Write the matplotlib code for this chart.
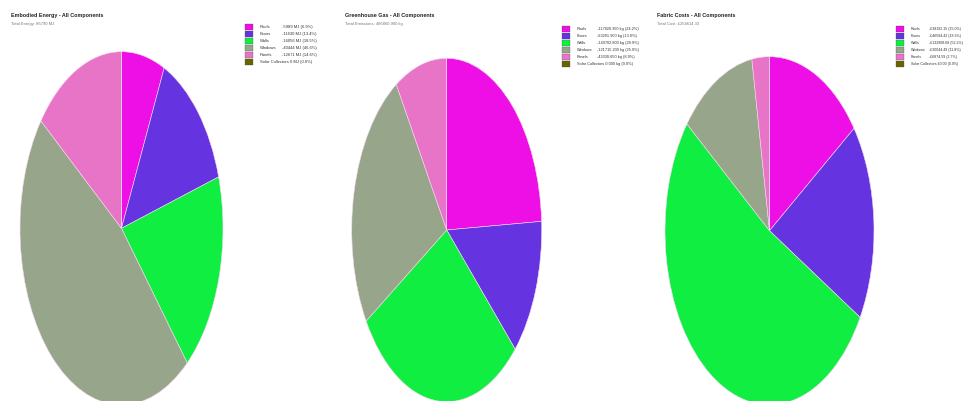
import matplotlib
matplotlib.use("Agg")
import matplotlib.pyplot as plt
from matplotlib.patches import Rectangle

plt.rcParams['font.family'] = ['Liberation Sans', 'DejaVu Sans']

components = ["Roofs", "Floors", "Walls", "Windows", "Panels", "Solar Collectors"]
colors = ["#ee0ee6", "#6633e0", "#10ee42", "#97a68a", "#e874c8", "#666600"]

energy = [5989, 11630, 16056, 40444, 12671, 0]
energy_pct = [6.9, 13.4, 18.5, 46.6, 14.6, 0.0]

ghg = [117820.350, 63291.900, 140702.800, 121715.200, 43330.650, 0.0]
ghg_pct = [24.2, 13.0, 28.9, 25.0, 8.9, 0.0]

cost = [38192.15, 46594.42, 132908.68, 30044.49, 6874.59, 0.0]
cost_pct = [15.0, 18.3, 52.2, 11.8, 2.7, 0.0]

titles = ["Embodied Energy - All Components",
          "Greenhouse Gas - All Components",
          "Fabric Costs - All Components"]
subtitles = ["Total Energy: 86790 MJ",
             "Total Emissions: 486860.900 kg",
             "Total Cost: \u00a3254614.33"]

W, H = 966, 401
fig = plt.figure(figsize=(W / 100, H / 100), dpi=100)


def px(x, y):
    return x / W, 1 - y / H


def add_pie(cx, cy, rx, ry, values):
    ax = fig.add_axes([(cx - rx) / W, 1 - (cy + ry) / H, 2 * rx / W, 2 * ry / H])
    ax.pie(values, colors=colors, startangle=90, counterclock=False,
           wedgeprops=dict(edgecolor="#f4d8f0", linewidth=0.4))
    ax.set_aspect("auto")
    ax.set_xlim(-1, 1)
    ax.set_ylim(-1, 1)
    ax.axis("off")


def add_legend(x0, y0, values, pcts, fmt, fs=3, gap=37):
    for i, name in enumerate(components):
        y = y0 + 7 * i
        fig.patches.append(Rectangle(px(x0, y + 3), 8 / W, 6 / H, transform=fig.transFigure,
                                     facecolor=colors[i], edgecolor="#444444", linewidth=0.2))
        val = fmt(values[i]) + " (%.1f%%)" % pcts[i]
        if name == "Solar Collectors":
            fig.text(*px(x0 + 15, y), name + " " + val.lstrip("-"), fontsize=fs,
                     va="center", color="#333333")
        else:
            fig.text(*px(x0 + 15, y), name, fontsize=fs, va="center", color="#333333")
            fig.text(*px(x0 + gap, y), val, fontsize=fs, va="center", color="#333333")


add_pie(121.5, 228.3, 101.5, 176.6, energy)
add_pie(446.7, 230.0, 95.0, 171.7, ghg)
add_pie(769.5, 230.7, 104.5, 174.0, cost)

title_x = [11, 345, 657]
for tx, t, s in zip(title_x, titles, subtitles):
    fig.text(*px(tx, 15), t, fontsize=3.9, fontweight="bold", va="center", color="#222222")
    fig.text(*px(tx, 24), s, fontsize=3.0, va="center", color="#777777")

add_legend(245, 27, energy, energy_pct, lambda v: "-%d MJ" % v)
add_legend(562, 29, ghg, ghg_pct, lambda v: "-%.3f kg" % v, fs=2.8, gap=35)
add_legend(896, 29, cost, cost_pct, lambda v: "-\u00a3%.2f" % v, fs=2.6, gap=33)

fig.savefig("out.png", dpi=100, facecolor="white")
